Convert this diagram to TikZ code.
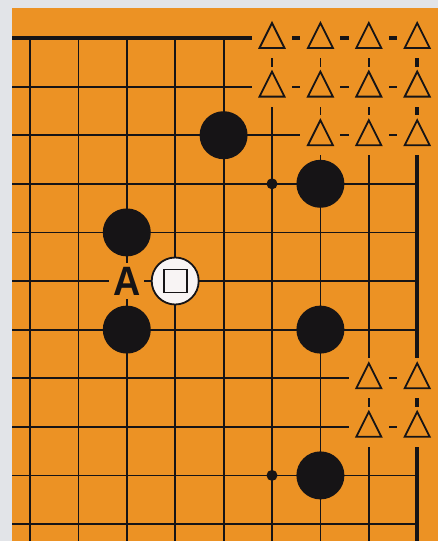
\documentclass[tikz,border=0pt]{standalone}
\usepackage{fontspec}
\newfontfamily\labelfont{Liberation Sans}
\definecolor{board}{RGB}{236,146,36}
\definecolor{margin}{RGB}{226,228,232}
\definecolor{ink}{RGB}{22,20,22}
\definecolor{stonewhite}{RGB}{248,244,244}
\begin{document}
\begin{tikzpicture}[x=1pt,y=-1pt,
  gridline/.style={line width=1.8pt, draw=ink},
  edgeline/.style={line width=4.4pt, draw=ink},
  bstone/.style={circle, fill=ink, minimum size=48pt, inner sep=0pt},
  wstone/.style={circle, fill=stonewhite, draw=ink, line width=1.8pt, minimum size=47pt, inner sep=0pt},
  hoshi/.style={circle, fill=ink, minimum size=11pt, inner sep=0pt},
  sqmark/.style={draw=ink, line width=1.8pt, minimum size=23pt, inner sep=0pt},
  knock/.style={fill=board},
  tri/.style={draw=ink, line width=1.8pt, line join=miter},
  lbl/.style={fill=board, inner sep=4pt, text=ink, font=\labelfont\bfseries\fontsize{41}{41}\selectfont}
]
\useasboundingbox (0,0) rectangle (438,541);
\fill[margin] (0,0) rectangle (438,541);
\fill[board] (12,8) rectangle (438,541);
\foreach \i in {0,...,8} \foreach \j in {0,...,10}
  \coordinate (p-\i-\j) at ({30+48.4*\i},{38+48.6*\j});
% grid
\foreach \i in {0,...,7} \draw[gridline] (p-\i-0) -- ++(0,503);
\foreach \j in {1,...,10} \draw[gridline] (p-0-\j) ++(-18,0) -- (p-8-\j);
\draw[edgeline] (p-0-0) ++(-18,0) -- (p-8-0);
\draw[edgeline] (p-8-0) -- ++(0,503);
% knock-outs round the marked points
\foreach \p in {5-0,6-0,7-0,8-0,5-1,6-1,7-1,8-1,6-2,7-2,8-2,7-7,8-7,7-8,8-8}
  \fill[knock] (p-\p) ++(-20,-20) rectangle ++(40,40);
% triangles
\foreach \p in {5-0,6-0,7-0,8-0,5-1,6-1,7-1,8-1,6-2,7-2,8-2,7-7,8-7,7-8,8-8}
  \draw[tri] (p-\p) ++(0,-15) -- ++(12.5,25) -- ++(-25,0) -- cycle;
% star points
\node[hoshi] (h1) at (p-5-3) {};
\node[hoshi] (h2) at (p-5-9) {};
% stones
\node[bstone] (b1) at (p-4-2) {};
\node[bstone] (b2) at (p-6-3) {};
\node[bstone] (b3) at (p-2-4) {};
\node[bstone] (b4) at (p-2-6) {};
\node[bstone] (b5) at (p-6-6) {};
\node[bstone] (b6) at (p-6-9) {};
\node[wstone] (w1) at (p-3-5) {};
\node[sqmark] (sq) at (w1) {};
\node[lbl] (A) at (p-2-5) {\scalebox{0.92}[1]{A}};
\end{tikzpicture}
\end{document}
